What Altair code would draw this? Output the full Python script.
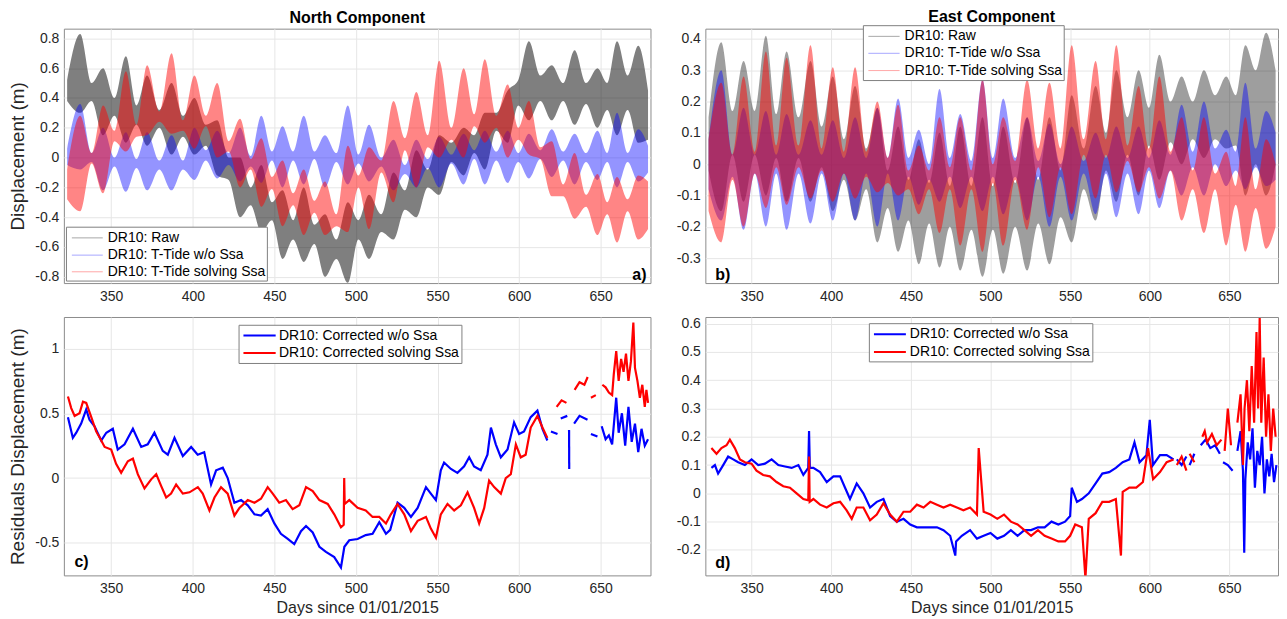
import altair as alt
import pandas as pd

FONT = "Liberation Sans"
TXT = "#262626"
GRID = "#e6e6e6"

# ---------------- panels a & b : envelope (high / low) of tidal series ----------------
days_ab = [323, 331, 338, 345, 352, 359, 365.5, 372, 379.5, 387, 394, 401, 408, 415, 422, 429, 435.5,
           442, 448.5, 455, 461.5, 468, 474.5, 481, 488, 495, 501.5, 508, 515.5, 523, 530, 537, 544,
           551, 558.5, 566, 572.5, 579, 586, 593, 599.5, 606, 613, 620, 627, 634, 641, 648, 654, 660,
           666.5, 673, 679]

a_raw_hi = [0.52, 0.83, 0.50, 0.60, 0.40, 0.68, 0.35, 0.55, 0.32, 0.50, 0.28, 0.40, 0.22, 0.25, 0.0, 0.0,
            -0.20, -0.05, -0.30, -0.22, -0.42, -0.20, -0.45, -0.38, -0.55, -0.30, -0.42, -0.25, -0.38, -0.10,
            -0.22, 0.05, -0.08, 0.15, 0.10, 0.20, 0.15, 0.30, 0.30, 0.45, 0.52, 0.78, 0.55, 0.62, 0.50, 0.72,
            0.50, 0.60, 0.50, 0.78, 0.55, 0.75, 0.45]
a_raw_lo = [0.38, 0.30, 0.38, 0.15, 0.28, 0.10, 0.22, 0.08, 0.20, 0.02, 0.14, 0.02, 0.08, -0.12, -0.15, -0.40,
            -0.32, -0.50, -0.42, -0.68, -0.55, -0.70, -0.58, -0.80, -0.68, -0.84, -0.55, -0.68, -0.50, -0.55,
            -0.35, -0.40, -0.20, -0.25, -0.03, -0.12, 0.03, -0.08, 0.18, 0.10, 0.35, 0.25, 0.38, 0.25, 0.38,
            0.22, 0.36, 0.20, 0.32, 0.15, 0.32, 0.10, 0.12]
a_blue_hi = [0.06, 0.36, 0.03, 0.20, 0.0, 0.17, -0.01, 0.17, -0.02, 0.15, -0.02, 0.20, 0.05, 0.18, 0.03, 0.20,
             0.01, 0.28, 0.04, 0.21, 0.04, 0.28, 0.04, 0.15, 0.03, 0.35, 0.02, 0.22, 0.0, 0.12, -0.05, 0.12,
             -0.01, 0.14, 0.02, 0.16, 0.05, 0.18, 0.04, 0.18, 0.03, 0.16, 0.05, 0.19, 0.04, 0.16, 0.03, 0.18,
             0.03, 0.30, 0.03, 0.19, 0.08]
a_blue_lo = [-0.05, -0.08, -0.03, -0.22, -0.06, -0.23, -0.07, -0.22, -0.08, -0.22, -0.08, -0.15, -0.02, -0.14,
             -0.05, -0.16, -0.06, -0.17, -0.02, -0.20, -0.02, -0.18, -0.01, -0.20, -0.03, -0.18, -0.04, -0.16,
             -0.06, -0.22, -0.11, -0.20, -0.07, -0.20, -0.04, -0.18, -0.01, -0.18, -0.02, -0.17, -0.03, -0.14,
             -0.01, -0.13, -0.02, -0.18, -0.03, -0.15, -0.03, -0.20, -0.03, -0.16, -0.10]
a_red_hi = [-0.08, 0.28, 0.03, 0.35, 0.18, 0.58, 0.22, 0.62, 0.31, 0.70, 0.25, 0.55, 0.28, 0.50, 0.11, 0.26,
            -0.01, 0.13, -0.13, -0.02, -0.24, -0.08, -0.29, -0.16, -0.38, 0.08, -0.12, 0.07, -0.02, 0.38, 0.13,
            0.44, 0.15, 0.65, 0.20, 0.60, 0.29, 0.66, 0.28, 0.49, 0.20, 0.38, 0.07, 0.11, -0.18, 0.03, -0.25,
            -0.11, -0.30, -0.13, -0.28, -0.12, -0.16]
a_red_lo = [-0.28, -0.36, -0.04, -0.24, 0.11, 0.04, 0.14, 0.15, 0.24, 0.16, 0.18, 0.06, 0.21, 0.0, 0.04, -0.20,
            -0.08, -0.33, -0.21, -0.46, -0.32, -0.52, -0.37, -0.52, -0.46, -0.50, -0.20, -0.48, -0.10, -0.30,
            0.05, -0.20, 0.07, 0.0, 0.12, 0.0, 0.21, 0.10, 0.20, 0.0, 0.12, 0.02, -0.01, -0.26, -0.26, -0.41,
            -0.33, -0.52, -0.38, -0.57, -0.36, -0.55, -0.48]

b_raw_hi = [0.15, 0.39, 0.17, 0.33, 0.17, 0.41, 0.16, 0.36, 0.15, 0.33, 0.12, 0.28, 0.08, 0.25, 0.05, 0.18,
            -0.02, 0.12, -0.05, 0.08, -0.06, 0.10, -0.07, 0.12, -0.07, 0.15, -0.07, 0.12, -0.06, 0.15, -0.05,
            0.15, -0.02, 0.22, 0.05, 0.25, 0.10, 0.30, 0.15, 0.30, 0.18, 0.35, 0.20, 0.28, 0.20, 0.30, 0.22,
            0.28, 0.22, 0.38, 0.30, 0.42, 0.30]
b_raw_lo = [-0.02, -0.15, 0.03, -0.12, 0.03, -0.10, 0.02, -0.12, 0.02, -0.12, -0.01, -0.15, -0.05, -0.18,
            -0.08, -0.25, -0.14, -0.28, -0.18, -0.32, -0.19, -0.33, -0.20, -0.34, -0.21, -0.36, -0.21, -0.35,
            -0.20, -0.34, -0.19, -0.32, -0.17, -0.25, -0.08, -0.18, -0.02, -0.12, 0.03, -0.10, 0.06, -0.05, 0.07,
            0.0, 0.08, 0.02, 0.08, 0.05, 0.06, -0.10, 0.0, -0.10, 0.0]
b_blue_hi = [0.08, 0.30, 0.03, 0.18, 0.03, 0.17, 0.03, 0.16, 0.03, 0.14, 0.03, 0.14, 0.02, 0.15, 0.02, 0.18,
             0.02, 0.21, 0.02, 0.11, 0.0, 0.24, 0.02, 0.16, 0.01, 0.27, 0.02, 0.21, 0.02, 0.15, 0.01, 0.13, 0.0,
             0.12, 0.01, 0.10, 0.02, 0.12, 0.02, 0.12, 0.02, 0.14, 0.03, 0.19, 0.04, 0.20, 0.05, 0.11, 0.04,
             0.26, 0.05, 0.17, 0.10]
b_blue_lo = [-0.08, -0.18, -0.04, -0.21, -0.03, -0.20, -0.03, -0.21, -0.03, -0.19, -0.03, -0.18, -0.03, -0.18,
             -0.03, -0.20, -0.03, -0.18, -0.04, -0.13, -0.05, -0.12, -0.04, -0.14, -0.04, -0.15, -0.04, -0.16,
             -0.04, -0.18, -0.04, -0.20, -0.04, -0.18, -0.03, -0.16, -0.03, -0.17, -0.03, -0.16, -0.02, -0.14,
             -0.02, -0.10, -0.01, -0.10, 0.0, -0.07, -0.02, -0.08, -0.01, -0.07, -0.05]
b_red_hi = [0.08, 0.26, 0.03, 0.28, 0.04, 0.36, 0.06, 0.34, 0.06, 0.38, 0.05, 0.31, 0.04, 0.31, 0.04, 0.20, 0.02,
            0.19, -0.02, 0.06, -0.02, 0.15, -0.01, 0.15, -0.02, 0.27, 0.0, 0.15, 0.01, 0.27, 0.05, 0.26, 0.05,
            0.38, 0.08, 0.33, 0.08, 0.38, 0.06, 0.25, 0.05, 0.28, 0.04, 0.15, -0.02, 0.15, -0.03, 0.04, -0.07,
            0.15, -0.08, 0.08, 0.0]
b_red_lo = [-0.15, -0.25, -0.05, -0.20, -0.03, -0.14, -0.01, -0.13, -0.01, -0.11, -0.02, -0.12, -0.03, -0.11,
            -0.04, -0.09, -0.06, -0.10, -0.08, -0.16, -0.08, -0.22, -0.08, -0.26, -0.08, -0.28, -0.06, -0.26,
            -0.05, -0.21, -0.01, -0.17, -0.01, -0.16, 0.03, -0.11, 0.03, -0.09, 0.01, -0.09, -0.01, -0.11,
            -0.02, -0.18, -0.08, -0.22, -0.08, -0.26, -0.13, -0.28, -0.14, -0.27, -0.20]

# ---------------- panels c & d : residual series (None = data gap) ----------------
c_blue_day = [323.5, 326.5, 328.6, 331.6, 334.7, 336.7, 339.8, 343.9, 347, 351, 354, 358.2, 363.3, 368.4, 372.4,
              376.5, 381.6, 384.7, 388.8, 393.9, 399, 403, 407, 411.2, 414.3, 418.4, 421.4, 425.5, 429.6, 433.7,
              437.8, 441.8, 445.9, 450, 454, 458.2, 462.2, 466.3, 469.4, 473.5, 477.6, 481.6, 486.7, 490.8, 492.9,
              495.9, 501, 506, 510.2, 514.3, 518.4, 521, 525.5, 529.6, 533.7, 537.8, 542.9, 545.9, 549, 552, 554,
              558.2, 562.2, 566.3, 569.4, 572.4, 576.5, 580.6, 582.7, 585.7, 588.8, 592.9, 596.9, 600, 603, 607.1,
              611.2, 614.3, 617.3,
              618.5, 619.5, 623.5, 624.5, 625.5, 629.5, 630.1, 630.6, 630.7, 631.5, 633.7, 637, 641.9, 643, 644,
              648, 649.5, 650.6, 653, 655, 657, 659.5, 661, 663, 665, 667, 669, 671, 673, 675, 677, 679]
c_blue_val = [0.47, 0.31, 0.35, 0.42, 0.53, 0.45, 0.40, 0.29, 0.35, 0.38, 0.22, 0.26, 0.38, 0.24, 0.26, 0.35, 0.21,
              0.18, 0.31, 0.17, 0.24, 0.18, 0.20, -0.05, 0.06, 0.08, 0.0, -0.19, -0.17, -0.21, -0.28, -0.29, -0.24,
              -0.35, -0.43, -0.47, -0.51, -0.41, -0.37, -0.42, -0.53, -0.57, -0.61, -0.69, -0.53, -0.48, -0.47,
              -0.44, -0.43, -0.34, -0.43, -0.40, -0.19, -0.23, -0.30, -0.23, -0.07, -0.12, -0.17, 0.06, 0.12, 0.07,
              0.04, 0.09, 0.16, 0.09, 0.06, 0.18, 0.39, 0.26, 0.16, 0.22, 0.43, 0.34, 0.36, 0.47, 0.52, 0.38, 0.29,
              None, 0.36, 0.34, None, 0.46, 0.48, None, 0.37, 0.07, None, 0.42, 0.48, 0.45, None, 0.34, 0.32, None,
              0.40, 0.30, 0.33, 0.26, 0.62, 0.35, 0.50, 0.25, 0.55, 0.28, 0.42, 0.20, 0.38, 0.25, 0.30]

c_red_day = [323.5, 325.5, 327.6, 330.6, 332.7, 334.7, 337.8, 340.8, 343.9, 346, 350, 353, 356.1, 360.2, 363.3,
             366.3, 370.4, 374.5, 377.6, 380.6, 383.7, 386.7, 389.8, 393.9, 398, 403.1, 406.1, 410.2, 413.3, 417.3,
             421.4, 425.5, 428.6, 433.7, 437.8, 441.8, 445.9, 449, 453, 457.1, 461.2, 465.3, 469.4, 473.5, 477.6,
             482.7, 486.7, 490.8, 492.5, 492.8, 493.1, 495.9, 501, 506, 510.2, 514.3, 518.4, 521.4, 525.5, 529.6,
             533.7, 537.8, 542.9, 545.9, 549, 552, 556.1, 560.2, 564.3, 568.4, 572.4, 575.5, 578.6, 581.6, 584.7,
             588.8, 591.8, 594.9, 598, 601, 604, 607.1, 611.2, 614.3, 617.3,
             619, 623, 626, 629, 631, 634, 637, 640, 642, 643, 644, 647, 649.5, 651, 653, 655, 657, 658, 659.5,
             661, 662.5, 664, 665.5, 667, 668.5, 670, 671, 672.5, 674, 675.5, 677, 678, 679]
c_red_val = [0.63, 0.54, 0.48, 0.50, 0.59, 0.58, 0.47, 0.36, 0.29, 0.24, 0.22, 0.11, 0.04, 0.13, 0.15, 0.03, -0.08,
             -0.01, 0.03, -0.06, -0.15, -0.12, -0.05, -0.12, -0.11, -0.07, -0.12, -0.25, -0.15, -0.07, -0.12,
             -0.29, -0.23, -0.17, -0.19, -0.16, -0.07, -0.12, -0.19, -0.17, -0.24, -0.21, -0.07, -0.10, -0.17,
             -0.20, -0.28, -0.38, -0.36, 0.0, -0.20, -0.17, -0.23, -0.25, -0.30, -0.30, -0.35, -0.28, -0.20, -0.28,
             -0.41, -0.33, -0.30, -0.39, -0.46, -0.28, -0.20, -0.25, -0.21, -0.11, -0.23, -0.35, -0.23, -0.02,
             -0.07, -0.12, 0.0, 0.03, 0.26, 0.16, 0.18, 0.39, 0.48, 0.39, 0.31,
             None, 0.55, 0.60, 0.58, None, 0.68, 0.74, 0.72, 0.78, None, 0.62, 0.64, None, 0.72, 0.70, 0.66, 0.64,
             0.80, 0.98, 0.75, 0.92, 0.82, 0.96, 0.75, 0.90, 1.20, 0.85, 0.75, 0.62, 0.72, 0.55, 0.68, 0.58]

d_blue_day = [324.8, 327, 329, 332.2, 335.3, 338.5, 341.6, 345.8, 350, 354.2, 358.4, 362.6, 366.8, 371, 375.2,
              379.4, 382.5, 385.6, 386.1, 386.6, 388.8, 393, 397.2, 401.4, 405.6, 408.7, 411.8, 416, 420.2, 424.4,
              428.6, 432.8, 437, 441.2, 445.4, 449.6, 453.8, 458, 462.2, 466.4, 470.5, 474.7, 477.9, 478.4, 482,
              487.2, 491.5, 495.7, 500, 504.3, 508.5, 512.8, 517, 521.3, 525.5, 529.8, 534, 538.3, 542.6, 546.8,
              550, 551, 554.3, 557.4, 561.7, 566, 570.2, 574.5, 578.7, 583, 587.2, 590.4, 593.6, 597.9, 600, 602,
              606.4, 610.6, 614.9,
              616, 617, 620, 623, 624, 625, 628, 630, 632, 635, 638, 641, 644, 645, 646, 649, 652, 653.5, 655, 657,
              658.5, 659.3, 660, 661.5, 663, 664.5, 666, 667.5, 669, 670.5, 672, 673.5, 675, 676.5, 678, 679.5]
d_blue_val = [0.09, 0.10, 0.07, 0.10, 0.13, 0.12, 0.11, 0.10, 0.12, 0.10, 0.105, 0.12, 0.10, 0.095, 0.09, 0.10,
              0.065, 0.09, 0.22, 0.09, 0.09, 0.075, 0.04, 0.06, 0.06, 0.02, -0.02, 0.035, 0.0, -0.05, -0.03, -0.02,
              -0.08, -0.10, -0.09, -0.11, -0.12, -0.12, -0.12, -0.12, -0.13, -0.15, -0.22, -0.17, -0.15, -0.13,
              -0.16, -0.15, -0.14, -0.16, -0.15, -0.13, -0.15, -0.13, -0.13, -0.12, -0.12, -0.10, -0.11, -0.10,
              -0.08, 0.02, -0.03, -0.02, 0.0, 0.035, 0.07, 0.075, 0.09, 0.11, 0.12, 0.18, 0.11, 0.135, 0.26, 0.10,
              0.135, 0.135, 0.12,
              None, 0.12, 0.10, 0.13, None, 0.10, 0.14, None, 0.17, 0.19, 0.16, 0.17, 0.14, None, 0.11, 0.10, 0.08,
              None, 0.15, 0.22, 0.08, -0.21, 0.05, 0.18, 0.12, 0.23, 0.02, 0.15, 0.10, 0.20, 0.0, 0.12, 0.06, 0.14,
              0.04, 0.10]

d_red_day = [324.8, 328, 331.1, 334.3, 336.4, 339.5, 342.7, 345.8, 350, 353.1, 357.3, 361.5, 365.7, 369.9, 374.1,
             378.3, 382.5, 385.6, 386.1, 386.5, 388.8, 393, 397.2, 401.4, 405.6, 409.7, 412.9, 416, 420.2, 424.4,
             428.6, 432.8, 437, 441.2, 445.4, 449.6, 453.8, 458, 462.2, 466.4, 470.5, 474.7, 478.9,
             483, 487.2, 491.5, 492.6, 495.7, 500, 504.3, 508.5, 512.8, 517, 521.3, 525.5, 529.8, 534, 538.3,
             542.6, 546.8, 550, 553.2, 557.4, 559.6, 561.7, 566, 570.2, 574.5, 578.7, 581.9, 583, 587.2, 591.5,
             595.7, 598.9, 602.1, 606.4, 610.6, 614.9,
             616, 617, 620, 623, 624, 625, 628, 631, 633, 634.5, 636, 639, 642, 645, 646, 647, 649, 651, 653.5,
             655, 657, 658.5, 659.5, 661, 662.5, 664, 665.5, 667, 668, 669, 670, 671.5, 673, 674.5, 676, 677.5, 679]
d_red_val = [0.16, 0.14, 0.16, 0.17, 0.19, 0.16, 0.12, 0.11, 0.105, 0.08, 0.065, 0.06, 0.04, 0.025, 0.02, 0.0,
             -0.02, -0.025, 0.13, -0.03, -0.02, -0.04, -0.05, -0.035, -0.03, -0.06, -0.09, -0.05, -0.05, -0.095,
             -0.075, -0.035, -0.075, -0.10, -0.065, -0.065, -0.04, -0.05, -0.03, -0.04, -0.05, -0.04, -0.05,
             -0.06, -0.05, -0.075, 0.16, -0.065, -0.075, -0.09, -0.075, -0.10, -0.11, -0.13, -0.15, -0.13, -0.15,
             -0.16, -0.17, -0.17, -0.15, -0.11, -0.12, -0.30, -0.09, -0.07, -0.03, -0.03, -0.02, -0.22, 0.005,
             0.02, 0.02, 0.04, 0.16, 0.05, 0.075, 0.11, 0.12,
             None, 0.10, 0.13, 0.08, None, 0.14, 0.11, None, 0.20, 0.22, 0.18, 0.21, 0.17, 0.19, None, 0.15, 0.30,
             0.17, None, 0.25, 0.35, 0.10, 0.30, 0.40, 0.22, 0.45, 0.25, 0.57, 0.30, 0.62, 0.25, 0.48, 0.20, 0.35,
             0.15, 0.30, 0.20]

XDOM = [321, 680.5]
XTICKS = [350, 400, 450, 500, 550, 600, 650]
W_L, W_R, H1, H2 = 588, 574, 255, 259


def band_df(hi, lo):
    return pd.DataFrame({"day": days_ab, "hi": hi, "lo": lo})


def line_df(days, vals):
    df = pd.DataFrame({"day": days, "v": vals})
    df["seg"] = df["v"].isna().cumsum()
    return df.dropna()


def xenc(title=None):
    ax = dict(values=XTICKS, grid=True, ticks=False, domain=False, labelFontSize=14, labelPadding=6,
              labelColor=TXT, gridColor=GRID, labelFont=FONT)
    if title:
        ax.update(titleFontSize=16, titleFontWeight="normal", titleColor=TXT, titlePadding=4, titleFont=FONT)
    return alt.X("day:Q", scale=alt.Scale(domain=XDOM, nice=False, zero=False), axis=alt.Axis(**ax), title=title)


def yenc(field, dom, ticks, title=None):
    ax = dict(values=ticks, grid=True, ticks=False, domain=False, labelFontSize=14, labelPadding=5,
              labelColor=TXT, gridColor=GRID, labelFont=FONT, labelExpr="toString(datum.value)",
              minExtent=30, maxExtent=30)
    if title:
        ax.update(titleFontSize=19, titleFontWeight="normal", titleColor=TXT, titlePadding=6, titleFont=FONT)
    return alt.Y(field + ":Q", scale=alt.Scale(domain=dom, nice=False, zero=False), axis=alt.Axis(**ax),
                 title=title)


ONE = pd.DataFrame({"k": [0]})


def legend(box, rows, xl, xt, items):
    out = [alt.Chart(ONE).mark_rect(fill="white", stroke="#7f7f7f", strokeWidth=1).encode(
        x=alt.value(box[0]), x2=alt.value(box[1]), y=alt.value(box[2]), y2=alt.value(box[3]))]
    for (label, color, op, sw), yy in zip(items, rows):
        out.append(alt.Chart(ONE).mark_rule(color=color, opacity=op, strokeWidth=sw).encode(
            x=alt.value(xl[0]), x2=alt.value(xl[1]), y=alt.value(yy)))
        out.append(alt.Chart(ONE).mark_text(align="left", baseline="middle", fontSize=14, font=FONT,
                                            color="black").encode(
            x=alt.value(xt), y=alt.value(yy), text=alt.value(label)))
    return out


def tag(txt, x, y, align):
    return alt.Chart(ONE).mark_text(align=align, baseline="middle", fontSize=16, fontWeight="bold",
                                    font=FONT, color="black").encode(
        x=alt.value(x), y=alt.value(y), text=alt.value(txt))


# invisible spacer so both top panels reserve the same room above the plot
spacer = alt.Chart(ONE).mark_rule(opacity=0).encode(x=alt.value(0), x2=alt.value(10), y=alt.value(-3))


def band_panel(series, dom, ticks, ytitle, title, width, leg, lab):
    layers = []
    for hi, lo, color, op in series:
        layers.append(alt.Chart(band_df(hi, lo)).mark_area(color=color, opacity=op, interpolate="monotone",
                                                           clip=True).encode(
            x=xenc(), y=yenc("lo", dom, ticks, ytitle), y2="hi:Q"))
    layers += leg
    layers.append(lab)
    layers.append(spacer)
    return alt.layer(*layers).properties(
        width=width, height=H1,
        title=alt.TitleParams(text=title, fontSize=16, fontWeight="bold", font=FONT, color="black",
                              offset=0, anchor="middle", frame="group"))


def line_panel(series, dom, ticks, ytitle, width, leg, lab):
    layers = []
    for days, vals, color in series:
        layers.append(alt.Chart(line_df(days, vals)).mark_line(color=color, strokeWidth=2.2, clip=True).encode(
            x=xenc("Days since 01/01/2015"), y=yenc("v", dom, ticks, ytitle), detail="seg:N"))
    layers += leg
    layers.append(lab)
    return alt.layer(*layers).properties(width=width, height=H2)


band_items = [("DR10: Raw", "black", 0.35, 1), ("DR10: T-Tide w/o Ssa", "#0000ff", 0.35, 1),
              ("DR10: T-Tide solving Ssa", "#ff0000", 0.35, 1)]
line_items = [("DR10: Corrected w/o Ssa", "#0000ff", 1, 2), ("DR10: Corrected solving Ssa", "#ff0000", 1, 2)]

pa = band_panel([(a_raw_hi, a_raw_lo, "black", 0.5), (a_blue_hi, a_blue_lo, "#0000ff", 0.42),
                 (a_red_hi, a_red_lo, "#ff0000", 0.48)],
                [-0.842, 0.865], [-0.8, -0.6, -0.4, -0.2, 0, 0.2, 0.4, 0.6, 0.8], "Displacement (m)",
                "North Component", W_L,
                legend((2.6, 204, 199, 253), (209.7, 227, 243.7), (8, 39), 44, band_items),
                tag("a)", 584, 247, "right"))

pb = band_panel([(b_raw_hi, b_raw_lo, "black", 0.38), (b_blue_hi, b_blue_lo, "#0000ff", 0.42),
                 (b_red_hi, b_red_lo, "#ff0000", 0.48)],
                [-0.38, 0.433], [-0.3, -0.2, -0.1, 0, 0.1, 0.2, 0.3, 0.4], None,
                "East Component", W_R,
                legend((158.4, 359.7, -3, 52), (7.7, 24.7, 42), (163.4, 194.7), 199.7, band_items),
                tag("b)", 10, 247, "left"))

pc = line_panel([(c_blue_day, c_blue_val, "#0000ff"), (c_red_day, c_red_val, "#ff0000")],
                [-0.751, 1.243], [-0.5, 0, 0.5, 1], "Residuals Displacement (m)", W_L,
                legend((175.6, 399, 8.3, 46.6), (18.6, 36), (180, 212.3), 215.6, line_items),
                tag("c)", 10.6, 246, "left"))

pdd = line_panel([(d_blue_day, d_blue_val, "#0000ff"), (d_red_day, d_red_val, "#ff0000")],
                 [-0.29, 0.6235], [-0.2, -0.1, 0, 0.1, 0.2, 0.3, 0.4, 0.5, 0.6], None, W_R,
                 legend((164.4, 388.4, 6.7, 45), (17.3, 35), (169, 201), 205, line_items),
                 tag("d)", 10, 246.7, "left"))

chart = alt.vconcat(
    alt.hconcat(pa, pb, spacing=23),
    alt.hconcat(pc, pdd, spacing=23),
    spacing=12,
).properties(padding=0, background="white").configure_view(stroke="#8c8c8c", strokeWidth=1)

chart.save("out.html", embed_options={"renderer": "svg", "actions": False})
